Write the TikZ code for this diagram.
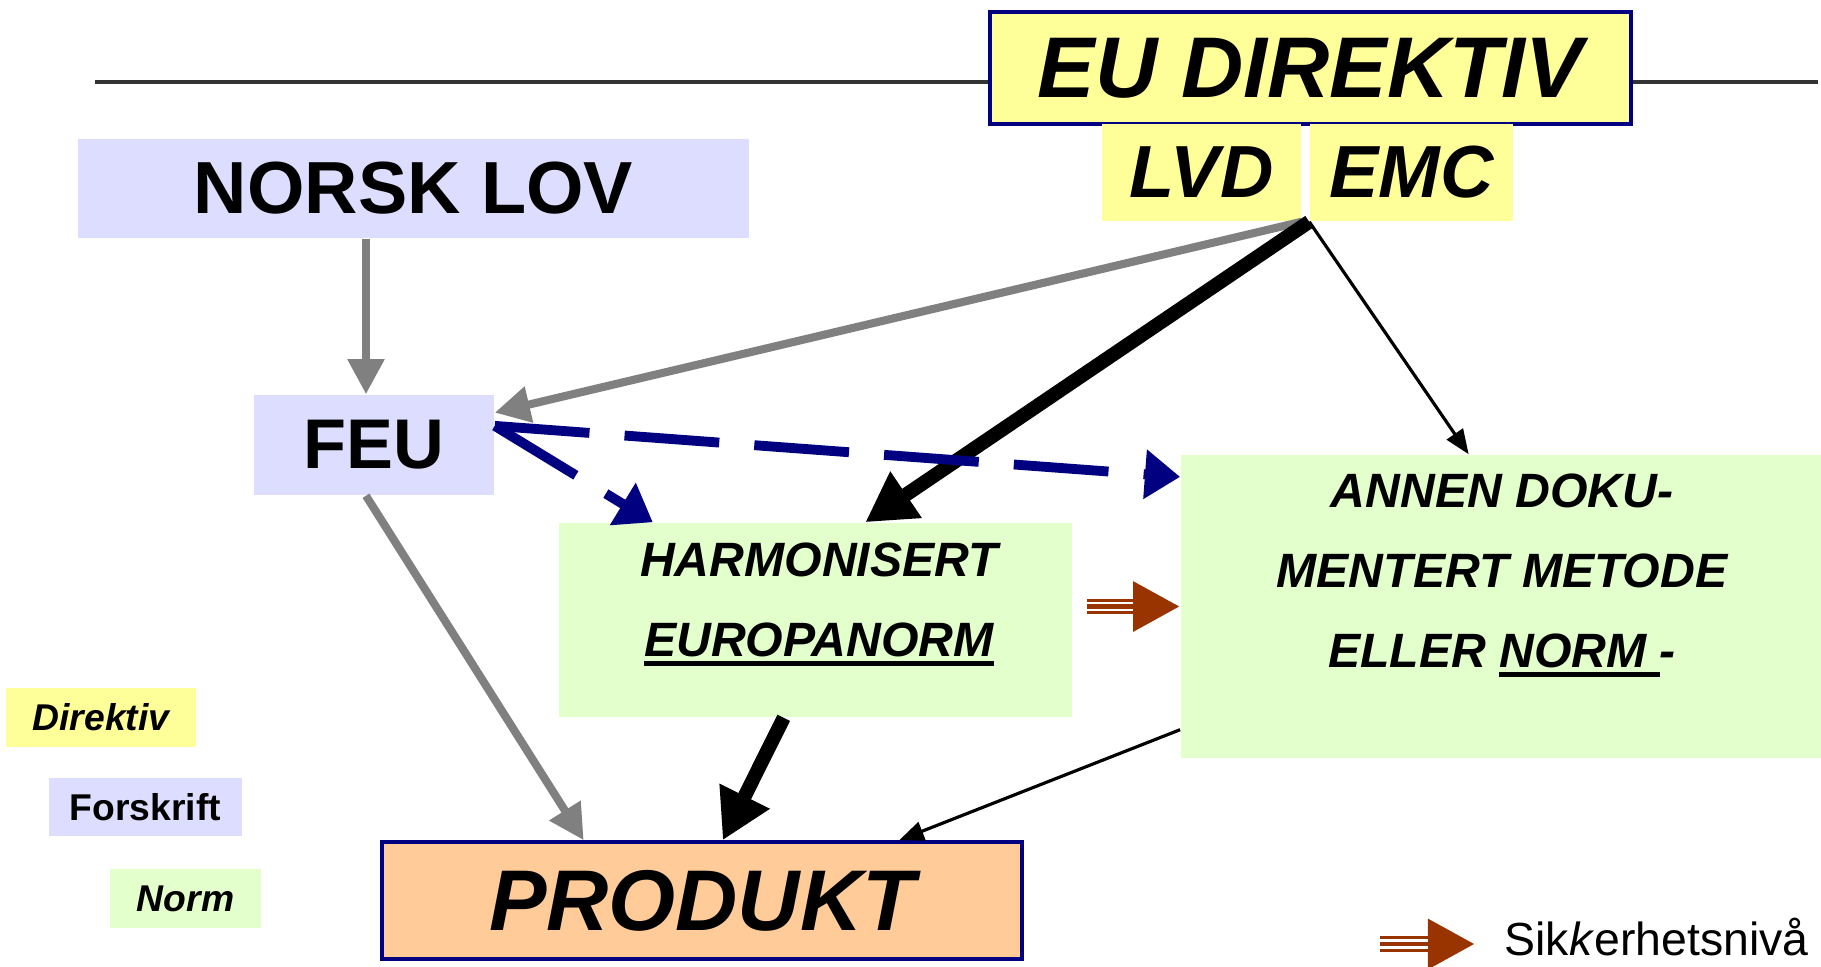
\documentclass[tikz,border=0pt]{standalone}
\usepackage{fontspec}
\setmainfont{Liberation Sans}
\usepackage{tikz}
\usetikzlibrary{arrows.meta,shapes,positioning,calc}
\usepackage{xcolor}

\definecolor{direktivgul}{HTML}{FFFF99}
\definecolor{forskriftlilla}{HTML}{DDDDFF}
\definecolor{normgroenn}{HTML}{E2FFCC}
\definecolor{produktoransje}{HTML}{FFCC99}
\definecolor{marine}{HTML}{000080}
\definecolor{graapil}{HTML}{808080}
\definecolor{brunpil}{HTML}{993300}

% tykk understreking
\newcommand{\tykkstrek}[1]{\setbox0\hbox{#1}\rlap{\rule[-2.6pt]{\wd0}{1.4pt}}\box0}

\begin{document}
\begin{tikzpicture}[x=0.01cm, y=-0.01cm,
    boks/.style={rectangle, inner sep=0pt},
    direktiv/.style={boks, fill=direktivgul},
    forskrift/.style={boks, fill=forskriftlilla},
    norm/.style={boks, fill=normgroenn},
    ramme/.style={draw=marine, line width=1pt},
    stor/.style={font=\fontsize{24.5}{29}\selectfont\bfseries\itshape},
    normtekst/.style={inner sep=0pt, align=center, anchor=north,
        font=\fontsize{13.7}{22.8}\selectfont\bfseries\itshape},
    graa/.style={draw=graapil, line width=2.3pt, -{Triangle[length=10pt,width=10pt]}},
    tykk/.style={draw=black, line width=4pt, -{Triangle[length=14pt,width=15pt]}},
    tynn/.style={draw=black, line width=0.9pt, -{Triangle[length=7pt,width=5.5pt]}},
    stiplet/.style={draw=marine, line width=2.8pt, dash pattern=on 27pt off 10pt,
        -{Triangle[length=10pt,width=13.5pt]}},
    sikker/.style={draw=brunpil, line width=4.5pt, -{Triangle[length=13.4pt,width=13.4pt]},
        postaction={draw=white, line width=2.6pt, -, shorten >=13.4pt},
        postaction={draw=brunpil, line width=1.2pt, -, shorten >=13.4pt}},
]
    \useasboundingbox (0,0) rectangle (1821,966);

    % Linje
    \coordinate (linjeV) at (95,82);
    \coordinate (linjeH) at (1818,82);
    \draw[line width=1pt, draw=black!80] (linjeV) -- (linjeH);

    % Direktiv
    \node[direktiv, ramme, stor, minimum width=6.41cm, minimum height=1.12cm] (eu) at (1310.5,68) {EU DIREKTIV};
    \node[direktiv, minimum width=1.99cm, minimum height=0.97cm, font=\fontsize{21}{25}\selectfont\bfseries\itshape] (lvd) at (1201.5,172.5) {LVD};
    \node[direktiv, minimum width=2.03cm, minimum height=0.97cm, font=\fontsize{21}{25}\selectfont\bfseries\itshape] (emc) at (1411.5,172.5) {EMC};

    % Forskrift
    \node[forskrift, minimum width=6.71cm, minimum height=0.99cm, font=\fontsize{21}{25}\selectfont\bfseries] (norsk) at (413.5,188.5) {NORSK LOV};
    \node[forskrift, minimum width=2.40cm, minimum height=1.00cm, font=\fontsize{20}{24}\selectfont\bfseries] (feu) at (374,445) {FEU};

    % Norm
    \node[norm, minimum width=5.13cm, minimum height=1.94cm] (harm) at (815.5,620) {};
    \node[normtekst] (harmtekst) at (819,542) {HARMONISERT\\\tykkstrek{EUROPANORM}};
    \node[norm, minimum width=6.40cm, minimum height=3.03cm] (annen) at (1501,606.5) {};
    \node[normtekst] (annentekst) at (1502,473) {ANNEN DOKU-\\MENTERT METODE\\ELLER \tykkstrek{NORM }-};

    % Produkt
    \node[boks, fill=produktoransje, ramme, stor, minimum width=6.40cm, minimum height=1.17cm] (produkt) at (702,900.5) {PRODUKT};

    % Forklaring
    \node[direktiv, minimum width=1.90cm, minimum height=0.59cm, font=\fontsize{10.6}{13}\selectfont\bfseries\itshape] (legdir) at (101,717.5) {Direktiv};
    \node[forskrift, minimum width=1.93cm, minimum height=0.58cm, font=\fontsize{10.6}{13}\selectfont\bfseries] (legfor) at (145.5,807) {Forskrift};
    \node[norm, minimum width=1.51cm, minimum height=0.59cm, font=\fontsize{10.6}{13}\selectfont\bfseries\itshape] (legnorm) at (185.5,898.5) {Norm};

    \coordinate (legpilA) at (1380,944);
    \coordinate (legpilB) at (1475,944);
    \draw[sikker] (legpilA) -- (legpilB);
    \node[anchor=base west, inner sep=0pt, font=\fontsize{13.2}{16}\selectfont] (sikkertekst) at (1504,955) {Sik\textit{k}erhetsnivå};

    % Piler
    \draw[graa] ([xshift=-0.08cm]norsk.south -| feu.north) -- ([xshift=-0.08cm]feu.north);
    \draw[graa] (lvd.south east) -- (feu.15);
    \draw[tykk] (emc.south west) -- (harm.63);
    \draw[tynn] (emc.south west) -- (annen.102);
    \draw[stiplet] (feu.9) -- (annen.158);
    \draw[stiplet] (feu.9) -- (harm.149);
    \draw[tykk] (harm.-108) -- (produkt.71);
    \draw[graa] (feu.-99) -- (produkt.153);
    \draw[tynn] (annen.201) -- (produkt.17);
    \draw[sikker, shorten <=0.14cm] (annen.west -| harm.east) -- (annen.west);
\end{tikzpicture}
\end{document}
